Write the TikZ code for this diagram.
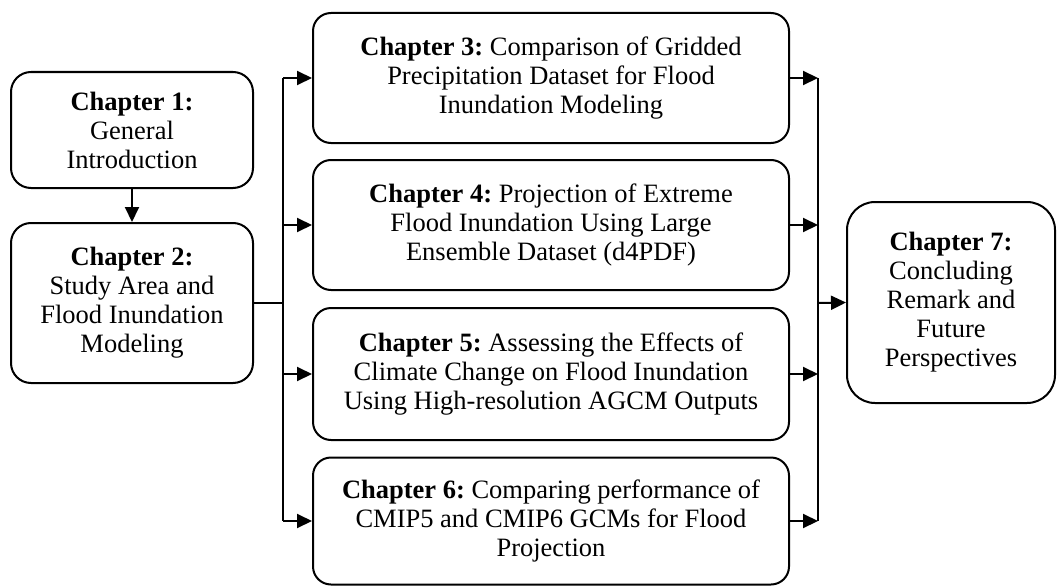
\documentclass[tikz,border=0pt]{standalone}
\usepackage{fontspec}
\setmainfont{Liberation Serif}
\usetikzlibrary{arrows.meta}
\frenchspacing
\begin{document}
\begin{tikzpicture}[x=1pt,y=-1pt,
  chbox/.style={draw, line width=2pt, rounded corners=18pt, align=center, inner sep=0pt,
    font=\fontsize{26.5}{29}\selectfont\frenchspacing},
  conn/.style={line width=2pt},
  arr/.style={line width=2pt, -{Triangle[length=15pt,width=14pt]}}]
\useasboundingbox (0,0) rectangle (1057,586);
\node[chbox, minimum width=242pt, minimum height=116pt, rounded corners=20pt] (B1) at (132,130)
  {\textbf{Chapter 1:}\\General\\Introduction};
\node[chbox, minimum width=242pt, minimum height=160pt, rounded corners=20pt] (B2) at (132,303)
  {\textbf{Chapter 2:}\\Study Area and\\Flood Inundation\\Modeling};
\node[chbox, minimum width=476pt, minimum height=130pt] (B3) at (551,78)
  {\textbf{Chapter 3:} Comparison of Gridded\\Precipitation Dataset for Flood\\Inundation Modeling};
\node[chbox, minimum width=476pt, minimum height=130pt] (B4) at (551,225)
  {\textbf{Chapter 4:} Projection of Extreme\\Flood Inundation Using Large\\Ensemble Dataset (d4PDF)};
\node[chbox, minimum width=476pt, minimum height=132pt] (B5) at (551,374)
  {\textbf{Chapter 5:} Assessing the Effects of\\Climate Change on Flood Inundation\\Using High-resolution AGCM Outputs};
\node[chbox, minimum width=476pt, minimum height=127pt] (B6) at (551,521)
  {\textbf{Chapter 6:} Comparing performance of\\CMIP5 and CMIP6 GCMs for Flood\\Projection};
\node[chbox, minimum width=208pt, minimum height=201pt, rounded corners=28pt] (B7) at (951,302.5)
  {\textbf{Chapter 7:}\\Concluding\\Remark and\\Future\\Perspectives};
\coordinate (L) at (283,303);
\coordinate (R) at (818,303);
\draw[arr] (B1.south) -- (B2.north);
\draw[conn] (B2.east) -- (L);
\draw[conn] (L |- B3.west) -- (L |- B6.west);
\foreach \b in {B3,B4,B5,B6}{
  \draw[arr] (L |- \b.west) -- (\b.west);
  \draw[arr] (\b.east) -- (R |- \b.east);
}
\draw[conn] (R |- B3.east) -- (R |- B6.east);
\draw[arr] (R) -- (B7.west);
\end{tikzpicture}
\end{document}
